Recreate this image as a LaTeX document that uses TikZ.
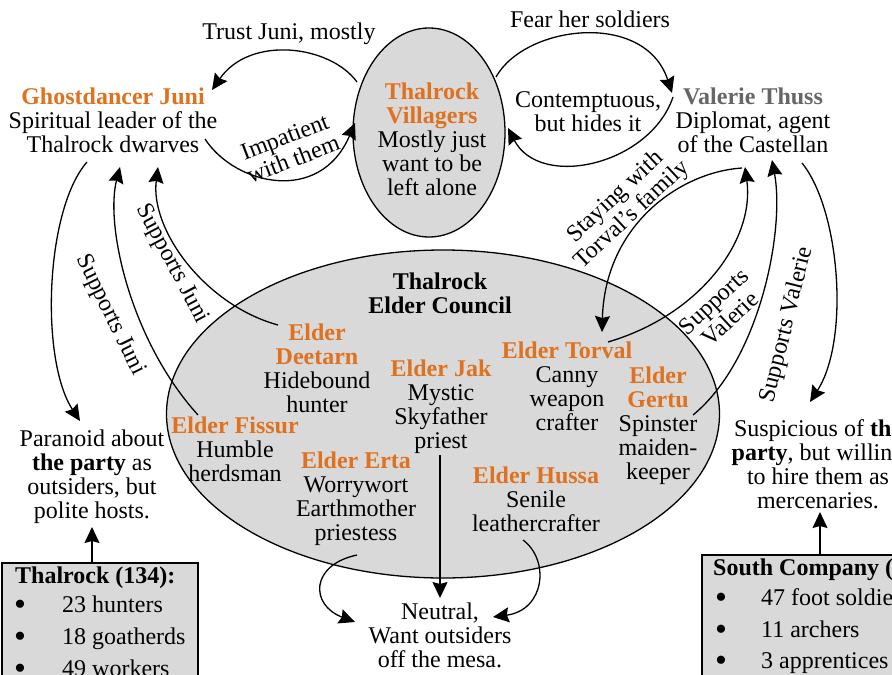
\documentclass[tikz,border=0pt]{standalone}
\usepackage{fontspec}
\setmainfont{Liberation Serif}
\usetikzlibrary{arrows.meta,shapes.geometric}
\definecolor{org}{RGB}{224,113,30}
\definecolor{vgray}{RGB}{102,102,102}
\definecolor{fillg}{RGB}{217,217,217}
\begin{document}
\begin{tikzpicture}[x=1pt,y=-1pt,
  font=\fontsize{24}{24}\selectfont,
  txt/.style={align=center, inner sep=0pt},
  ell/.style={ellipse, draw, line width=1.3pt, fill=fillg, inner sep=0pt},
  boxn/.style={rectangle, draw, line width=1.2pt, fill=fillg, inner sep=0pt},
  conn/.style={line width=1.3pt, -{Stealth[length=16pt,width=15pt,inset=2pt]}},
  itm/.style={anchor=base west, inner sep=0pt},
  bul/.style={anchor=base, inner sep=0pt, font=\fontsize{34}{34}\selectfont}]
\useasboundingbox (0,0) rectangle (892,675);
\clip (0,0) rectangle (892,675);

% ellipses and boxes
\node[ell, minimum width=152pt, minimum height=209pt] (vil) at (429,132.5) {};
\node[ell, minimum width=553pt, minimum height=328pt] (council) at (443,414) {};
\node[boxn, minimum width=196pt, minimum height=160pt] (tbox) at (100,643) {};
\node[boxn, minimum width=250pt, minimum height=160pt] (sbox) at (827,635) {};

% texts
\node[txt] (viltxt) at (432,139) {\textcolor{org}{\textbf{Thalrock}}\\\textcolor{org}{\textbf{Villagers}}\\Mostly just\\want to be\\left alone};
\node[txt] (juni) at (113,120) {\textcolor{org}{\textbf{Ghostdancer Juni}}\\Spiritual leader of the\\Thalrock dwarves};
\node[txt] (val) at (753,120) {\textcolor{vgray}{\textbf{Valerie Thuss}}\\Diplomat, agent\\of the Castellan};
\node[txt, font=\fontsize{24}{24}\selectfont\bfseries] (ctitle) at (440,293) {Thalrock\\Elder Council};
\node[txt] (dee) at (317,368) {\textcolor{org}{\textbf{Elder}}\\\textcolor{org}{\textbf{Deetarn}}\\Hidebound\\hunter};
\node[txt] (jak) at (441,407) {\textcolor{org}{\textbf{Elder Jak}}\\Mystic\\Skyfather\\priest};
\node[txt] (tor) at (567,386) {\textcolor{org}{\textbf{Elder Torval}}\\Canny\\weapon\\crafter};
\node[txt] (ger) at (658,426) {\textcolor{org}{\textbf{Elder}}\\\textcolor{org}{\textbf{Gertu}}\\Spinster\\maiden-\\keeper};
\node[txt] (fis) at (235,449) {\textcolor{org}{\textbf{Elder Fissur}}\\Humble\\herdsman};
\node[txt] (ert) at (356,499) {\textcolor{org}{\textbf{Elder Erta}}\\Worrywort\\Earthmother\\priestess};
\node[txt] (hus) at (536,499) {\textcolor{org}{\textbf{Elder Hussa}}\\Senile\\leathercrafter};
\node[txt] (neu) at (440,635) {Neutral,\\Want outsiders\\off the mesa.};
\node[txt] (par) at (92,477) {Paranoid about\\\textbf{the party} as\\outsiders, but\\polite hosts.};
\node[txt] (sus) at (818,464) {Suspicious of \textbf{the}\\\textbf{party}, but willing\\to hire them as\\mercenaries.};

% box contents
\node[itm, font=\fontsize{24}{24}\selectfont\bfseries] (th) at (15,583) {Thalrock (134):};
\node[bul] (tb1) at (20,615) {\textbullet};
\node[bul] (tb2) at (20,647) {\textbullet};
\node[bul] (tb3) at (20,679) {\textbullet};
\node[itm] (ti1) at (62,612) {23 hunters};
\node[itm] (ti2) at (62,644) {18 goatherds};
\node[itm] (ti3) at (62,676) {49 workers};
\node[itm, font=\fontsize{24}{24}\selectfont\bfseries] (sh) at (713,575) {South Company (61):};
\node[bul] (sb1) at (721,608) {\textbullet};
\node[bul] (sb2) at (721,640) {\textbullet};
\node[bul] (sb3) at (721,671) {\textbullet};
\node[itm] (si1) at (761,605) {47 foot soldiers};
\node[itm] (si2) at (761,637) {11 archers};
\node[itm] (si3) at (761,668) {3 apprentices};

% edge labels
\node[txt] (l1) at (289,34) {Trust Juni, mostly};
\node[txt] (l2) at (590,19) {Fear her soldiers};
\node[txt, rotate=21] (l3) at (289,148) {Impatient\\with them};
\node[txt] (l4) at (588,112) {Contemptuous,\\but hides it};
\node[txt, rotate=-64] (l5) at (110,315) {Supports Juni};
\node[txt, rotate=-62] (l6) at (172,264) {Supports Juni};
\node[txt, rotate=43] (l7) at (624,206) {Staying with\\Torval's family};
\node[txt, rotate=43] (l8) at (722,310) {Supports\\Valerie};
\node[txt, rotate=76] (l9) at (787,325) {Supports Valerie};

% connector end points
\coordinate (vilJ) at (357,82);
\coordinate (juniT) at (212,90);
\coordinate (juniR) at (205,139);
\coordinate (vilL) at (355,123);
\coordinate (vilR) at (496,77);
\coordinate (valL) at (672,93);
\coordinate (valL2) at (673,97);
\coordinate (vilR2) at (508,128);
\coordinate (juniB1) at (87,162);
\coordinate (parT) at (80,421);
\coordinate (fisT) at (198,415);
\coordinate (juniB2) at (120,167);
\coordinate (deeT) at (278,325);
\coordinate (juniB3) at (158,167);
\coordinate (valB1) at (742,168);
\coordinate (torT) at (602,332);
\coordinate (torR) at (608,342);
\coordinate (valB2) at (745,167);
\coordinate (gerR) at (693,415);
\coordinate (valB3) at (772,160);
\coordinate (valB4) at (802,163);
\coordinate (susT) at (810,402);
\coordinate (ertB) at (357,555);
\coordinate (neuL) at (355,622);
\coordinate (husB) at (523,540);
\coordinate (neuR) at (493,617);
\coordinate (jakB) at (440,455);
\coordinate (neuT) at (440,598);
\coordinate (parB) at (92,527);
\coordinate (susB) at (820,512);

% connectors
\draw[conn] (vilJ) .. controls (330,45) and (250,35) .. (juniT);
\draw[conn] (juniR) .. controls (235,185) and (320,205) .. (vilL);
\draw[conn] (vilR) .. controls (525,25) and (645,10) .. (valL);
\draw[conn] (valL2) .. controls (650,165) and (540,190) .. (vilR2);
\draw[conn] (juniB1) .. controls (45,210) and (40,360) .. (parT);
\draw[conn] (fisT) .. controls (130,340) and (105,225) .. (juniB2);
\draw[conn] (deeT) .. controls (205,305) and (150,230) .. (juniB3);
\draw[conn] (valB1) .. controls (680,172) and (605,225) .. (torT);
\draw[conn] (torR) .. controls (700,315) and (755,240) .. (valB2);
\draw[conn] (gerR) .. controls (760,360) and (785,230) .. (valB3);
\draw[conn] (valB4) .. controls (840,210) and (850,340) .. (susT);
\draw[conn] (ertB) .. controls (310,565) and (310,605) .. (neuL);
\draw[conn] (jakB) -- (neuT);
\draw[conn] (husB) .. controls (550,560) and (545,610) .. (neuR);
\draw[conn] (tbox.north -| parB) -- (parB);
\draw[conn] (sbox.north -| susB) -- (susB);
\end{tikzpicture}
\end{document}
